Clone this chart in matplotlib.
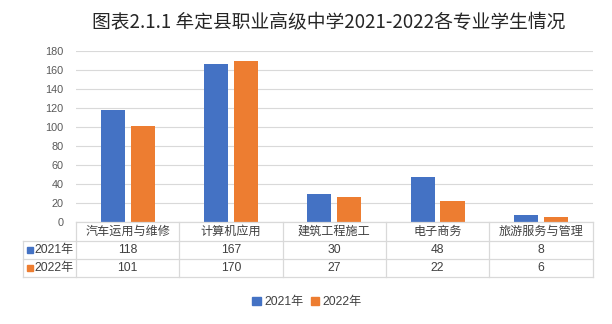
import matplotlib
matplotlib.use("Agg")
import matplotlib.pyplot as plt
from matplotlib.patches import Rectangle
from matplotlib.lines import Line2D
import numpy as np

plt.rcParams['font.family'] = ['Liberation Sans', 'Noto Sans CJK SC', 'DejaVu Sans']

# data
categories = ["汽车运用与维修", "计算机应用", "建筑工程施工", "电子商务", "旅游服务与管理"]
series_names = ["2021年", "2022年"]
values_2021 = [118, 167, 30, 48, 8]
values_2022 = [101, 170, 27, 22, 6]
title = "图表2.1.1 牟定县职业高级中学2021-2022各专业学生情况"

colors = ["#4472C4", "#ED7D31"]
grid_c = "#D9D9D9"
text_c = "#404040"

W, H = 612, 324
fig = plt.figure(figsize=(W / 100, H / 100), dpi=100)


def fx(px):
    return px / W


def fy(py):
    # pixel from top -> figure fraction
    return 1 - py / H


left, right = 76, 592.5
top, bottom = 51.3, 222.3
ax = fig.add_axes([fx(left), fy(bottom), fx(right - left), (bottom - top) / H])

n = len(categories)
x = np.arange(n)
bw = 0.233
off = 0.145
ax.bar(x - off, values_2021, bw, color=colors[0], zorder=3)
ax.bar(x + off, values_2022, bw, color=colors[1], zorder=3)

ax.set_xlim(-0.5, n - 0.5)
ax.set_ylim(0, 180)
ax.set_yticks(range(0, 181, 20))
ax.yaxis.grid(True, color=grid_c, linewidth=0.8, zorder=0)
ax.set_xticks([])
ax.tick_params(axis='y', length=0, pad=9, labelsize=7.8, labelcolor="#595959")
for s in ax.spines.values():
    s.set_visible(False)

# data table below the plot
cw = (right - left) / n
row_h = 18.2
tab_left = 23
y0 = bottom
y1 = y0 + row_h
y2 = y1 + row_h
y3 = y2 + row_h
line_kw = dict(color=grid_c, linewidth=0.9, transform=fig.transFigure)
fig.add_artist(Line2D([fx(left), fx(right)], [fy(y0), fy(y0)], **line_kw))
for yy in (y1, y2, y3):
    fig.add_artist(Line2D([fx(tab_left), fx(right)], [fy(yy), fy(yy)], **line_kw))
fig.add_artist(Line2D([fx(tab_left), fx(tab_left)], [fy(y1), fy(y3)], **line_kw))
for i in range(n + 1):
    xx = left + i * cw
    fig.add_artist(Line2D([fx(xx), fx(xx)], [fy(y0), fy(y3)], **line_kw))

fs = 8.7
for i, cat in enumerate(categories):
    cx = left + (i + 0.5) * cw
    fig.text(fx(cx), fy((y0 + y1) / 2), cat, ha='center', va='center',
             fontsize=fs, color=text_c)
    fig.text(fx(cx), fy((y1 + y2) / 2), str(values_2021[i]), ha='center',
             va='center', fontsize=fs, color=text_c)
    fig.text(fx(cx), fy((y2 + y3) / 2), str(values_2022[i]), ha='center',
             va='center', fontsize=fs, color=text_c)

for k, name in enumerate(series_names):
    yc = (y1 + y2) / 2 if k == 0 else (y2 + y3) / 2
    fig.add_artist(Rectangle((fx(27), fy(yc + 3)), fx(6), 6 / H,
                             color=colors[k], transform=fig.transFigure))
    fig.text(fx(34), fy(yc), name, ha='left', va='center', fontsize=fs,
             color=text_c)

# legend
handles = [Rectangle((0, 0), 1, 1, color=c) for c in colors]
fig.legend(handles, series_names, loc='center', bbox_to_anchor=(fx(307), fy(302)),
           ncol=2, frameon=False, fontsize=fs, handlelength=0.7, handleheight=0.7,
           handletextpad=0.3, columnspacing=0.6, labelcolor=text_c)

fig.text(fx(329), fy(23), title, ha='center', va='center', fontsize=13.5,
         color="#262626", family=['Noto Sans CJK SC', 'DejaVu Sans'])

fig.savefig("out.png", dpi=100, facecolor="white")
